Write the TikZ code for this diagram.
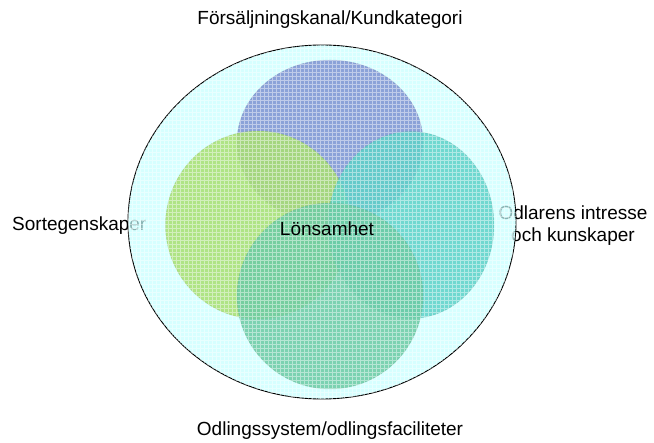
\documentclass[tikz,border=0pt]{standalone}
\usepackage{fontspec}
\setmainfont{Liberation Sans}
\usepackage{xcolor}
\usepackage{tikz}
\usetikzlibrary{shapes.geometric}
\definecolor{vnouter}{HTML}{C4FFFF}
\definecolor{vnblue}{HTML}{7F93D2}
\definecolor{vnlime}{HTML}{A8E070}
\definecolor{vnteal}{HTML}{5ED2C9}
\definecolor{vnsea}{HTML}{6CCBA4}

\begin{document}
\begin{tikzpicture}[
  x=1pt, y=-1pt,
  font=\fontsize{19}{22}\selectfont,
  label/.style={text=black, inner sep=0pt, align=center},
  set/.style={ellipse, inner sep=0pt, fill opacity=0.85, draw opacity=0.25, line width=0.5pt},
  whole/.style={ellipse, inner sep=0pt, draw=black, line width=0.9pt, fill=vnouter, fill opacity=0.7},
  gridline/.style={white, line width=0.7pt, opacity=0.45}
]
\useasboundingbox (0,0) rectangle (654,443);

% --- labels round the outside (under the big ellipse) ---
\node[label] (salj) at (330,20) {Försäljningskanal/Kundkategori};
\node[label, anchor=west] (sort) at (12,226) {Sortegenskaper};
\node[label] (odlare) at (573,226) {Odlarens intresse\\och kunskaper};
\node[label] (odling) at (330,431) {Odlingssystem/odlingsfaciliteter};

% --- the whole ---
\node[whole, minimum width=388, minimum height=354] (outer) at (322,222) {};

% --- four overlapping sets ---
\node[set, fill=vnblue, draw=vnblue!70!black, minimum width=186, minimum height=164] (kanal) at (330,142) {};
\node[set, fill=vnlime, draw=vnlime!70!black, minimum width=185, minimum height=188] (sorter) at (258,225) {};
\node[set, fill=vnteal, draw=vnteal!70!black, minimum width=166, minimum height=187] (odl) at (411,225) {};
\node[set, fill=vnsea, draw=vnsea!70!black, minimum width=186, minimum height=186] (system) at (330,296) {};

% grid texture inside the ellipse
\begin{scope}
  \clip (outer.center) ellipse [x radius=194, y radius=177];
  \draw[gridline, step=4pt] (120,40) grid (520,400);
\end{scope}

\node[label] (lons) at (327,229) {Lönsamhet};

\end{tikzpicture}
\end{document}
